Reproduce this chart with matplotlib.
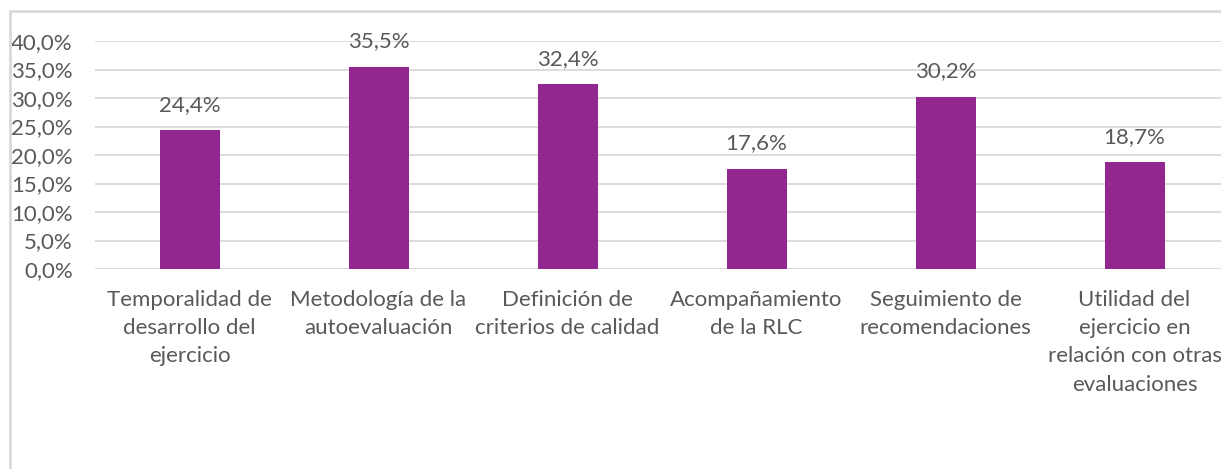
import numpy as np
import matplotlib.pyplot as plt
from matplotlib.patches import Rectangle

categories = [
    'Temporalidad de\ndesarrollo del\nejercicio',
    'Metodología de la\nautoevaluación',
    'Definición de\ncriterios de calidad',
    'Acompañamiento\nde la RLC',
    'Seguimiento de\nrecomendaciones',
    'Utilidad del\nejercicio en\nrelación con otras\nevaluaciones',
]
values = [24.4, 35.5, 32.4, 17.6, 30.2, 18.7]
yticks = [0, 5, 10, 15, 20, 25, 30, 35, 40]


def pct(v):
    return ('%.1f' % v).replace('.', ',') + '%'


plt.rcParams['font.family'] = ['Lato', 'DejaVu Sans']
text_color = '#595959'
bar_color = '#92278F'
fs = 16

W, H = 1221, 469
fig = plt.figure(figsize=(W / 100, H / 100), dpi=100, facecolor='white')

# chart frame, cropped on the right and bottom
fig.add_artist(Rectangle((9.5 / W, -0.1), 1.2, (H - 11.5) / H + 0.1,
                         transform=fig.transFigure, fill=False,
                         edgecolor='#D9D9D9', linewidth=2))

ax = fig.add_axes([95 / W, 200 / H, 1134 / W, 228 / H])
x = np.arange(len(values))
ax.bar(x, values, width=60 / 189, color=bar_color, zorder=3)
ax.set_xlim(-0.5, len(values) - 0.5)
ax.set_ylim(0, 40)
ax.set_yticks(yticks)
ax.set_yticklabels([pct(v) for v in yticks], fontsize=fs, color=text_color)
ax.yaxis.grid(True, color='#D9D9D9', linewidth=1.3, zorder=0)
ax.tick_params(axis='y', length=0, pad=16)
ax.set_xticks(x)
ax.set_xticklabels(categories, fontsize=fs, color=text_color, linespacing=1.52)
ax.tick_params(axis='x', length=0, pad=15)
for s in ax.spines.values():
    s.set_visible(False)
ax.set_axisbelow(True)

for xi, v in zip(x, values):
    ax.annotate(pct(v), (xi, v), xytext=(0, 11),
                textcoords='offset points', ha='center', va='bottom',
                fontsize=fs, color=text_color)

fig.savefig('out.png', dpi=100)
